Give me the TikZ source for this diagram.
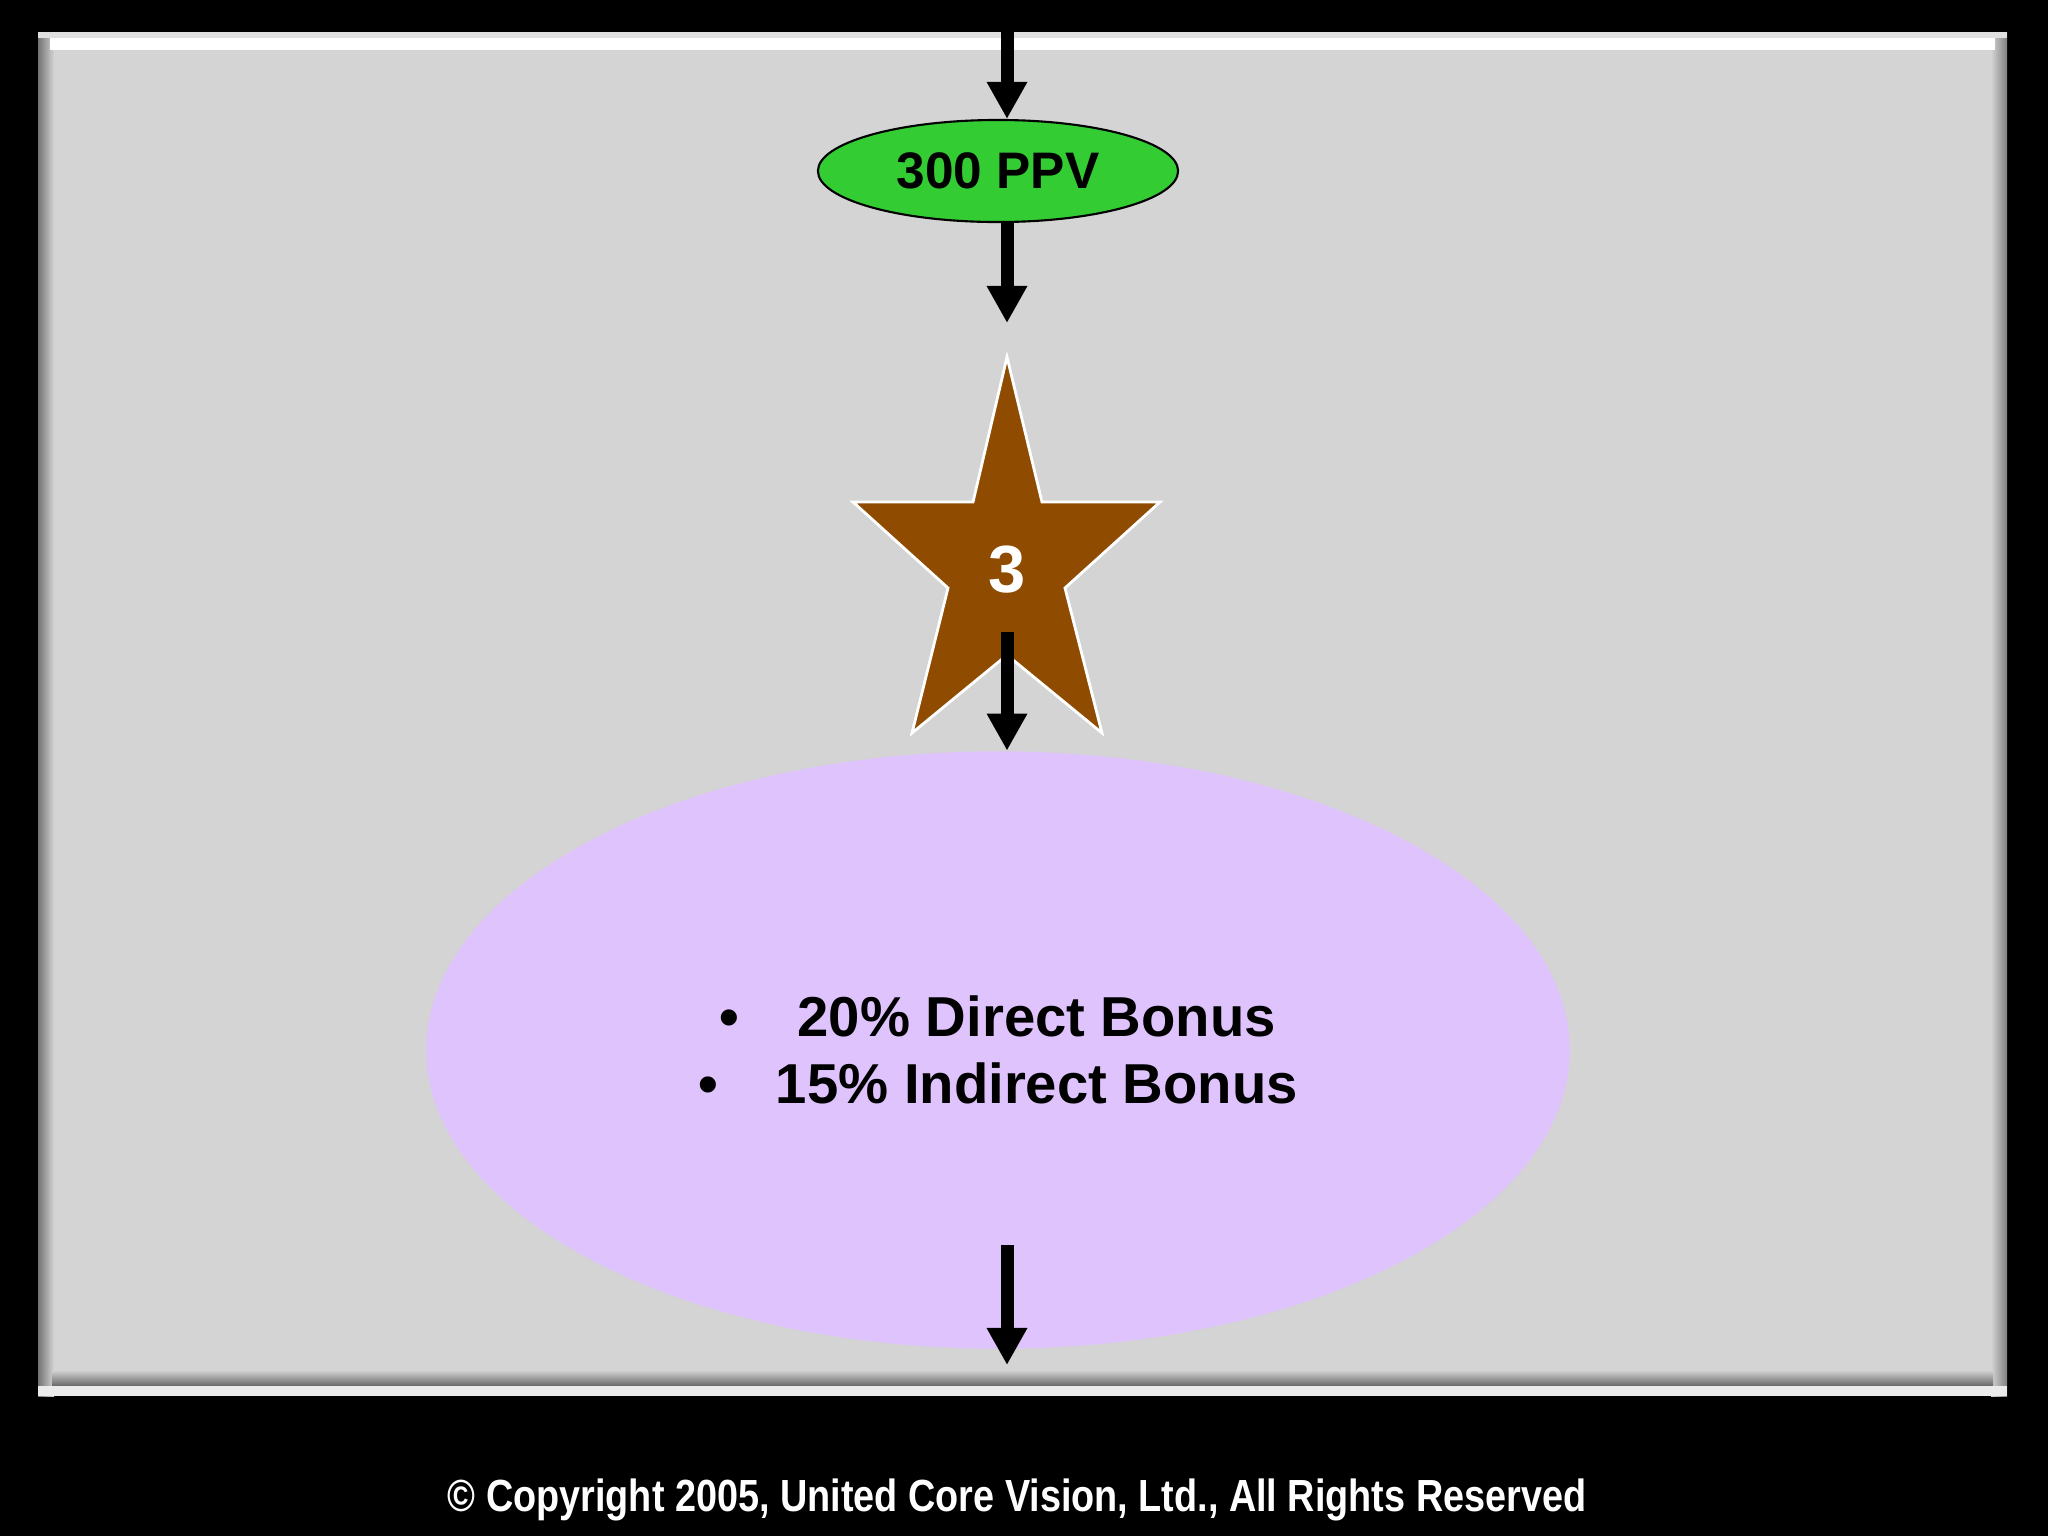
\documentclass[tikz,border=0pt]{standalone}
\usepackage{fontspec}
\setmainfont{Liberation Sans}
\newfontfamily\copyfont{Liberation Sans}[FakeStretch=0.84]
\usetikzlibrary{arrows.meta,shapes.geometric}

\definecolor{panelgray}{RGB}{212,212,212}
\definecolor{ppvgreen}{RGB}{51,204,51}
\definecolor{starbrown}{RGB}{143,75,0}
\definecolor{bonuslilac}{RGB}{223,195,253}

\tikzset{
	flowarrow/.style={line width=0.13cm, -{Triangle[width=0.38cm,length=0.37cm]}},
	ppvblob/.style={ellipse, draw=black, line width=0.6pt, fill=ppvgreen, inner sep=0pt,
		minimum width=3.6cm, minimum height=1.02cm, font=\bfseries\fontsize{14.6}{16}\selectfont},
	bonusblob/.style={ellipse, fill=bonuslilac, inner sep=0pt, align=center,
		minimum width=11.43cm, minimum height=5.97cm, font=\bfseries\fontsize{16}{19}\selectfont}
}

\begin{document}
\begin{tikzpicture}[x=0.01cm, y=-0.01cm]
			%%%%% START %%%%%
			
			\useasboundingbox (0, 0) rectangle (2048, 1536);
			\fill[black] (0, 0) rectangle (2048, 1536);
			
			% panel with bevelled edges
			\fill[panelgray] (38, 32) rectangle (2007, 1396);
			\shade[left color=black!55, right color=panelgray] (38, 32) rectangle (54, 1396);
			\shade[left color=panelgray, right color=black!50] (1991, 32) rectangle (2007, 1396);
			\fill[black!12] (38, 32) rectangle (2007, 38);
			\fill[white] (50, 38) rectangle (1995, 50);
			\shade[top color=panelgray, bottom color=black!60] (52, 1370) rectangle (1993, 1386);
			\fill[black!8] (38, 1386) rectangle (2007, 1396);
			
			% star
			\draw[fill=starbrown, draw=white, line width=0.8pt] (1007, 357) -- (1042, 502) -- (1160, 502) -- (1065, 588)
				-- (1102, 733) -- (1007, 655) -- (912, 733) -- (948, 588) -- (853, 502) -- (973, 502) -- cycle;
			\node[text=white, font=\bfseries\fontsize{19}{21}\selectfont] (three) at (1007, 570) {3};
			
			\node[ppvblob] (ppv) at (998, 171) {300 PPV};
			\node[bonusblob] (bonus) at (998, 1050)
				{\textbullet\hspace{16.5pt}20\% Direct Bonus\\ \textbullet\hspace{16.5pt}15\% Indirect Bonus};
			
			\coordinate (topin) at (1007, 0);
			\coordinate (ppvout) at (1007, 323);
			\coordinate (starout) at (1007, 632);
			\coordinate (bonusout) at (1007, 1245);
			\coordinate (bottomend) at (1007, 1365);
			
			\draw[flowarrow] (topin) -- (topin |- ppv.north);
			\draw[flowarrow] (topin |- ppv.south) -- (ppvout);
			\draw[flowarrow] (starout) -- (starout |- bonus.north);
			\draw[flowarrow] (bonusout) -- (bottomend);
			
			\node[text=white, inner sep=0pt, font=\copyfont\bfseries\fontsize{12.8}{14}\selectfont] (copyright) at (1017, 1500)
				{\textcopyright{} Copyright 2005, United Core Vision, Ltd., All Rights Reserved};
			
			%%%%% END %%%%%
\end{tikzpicture}
\end{document}
